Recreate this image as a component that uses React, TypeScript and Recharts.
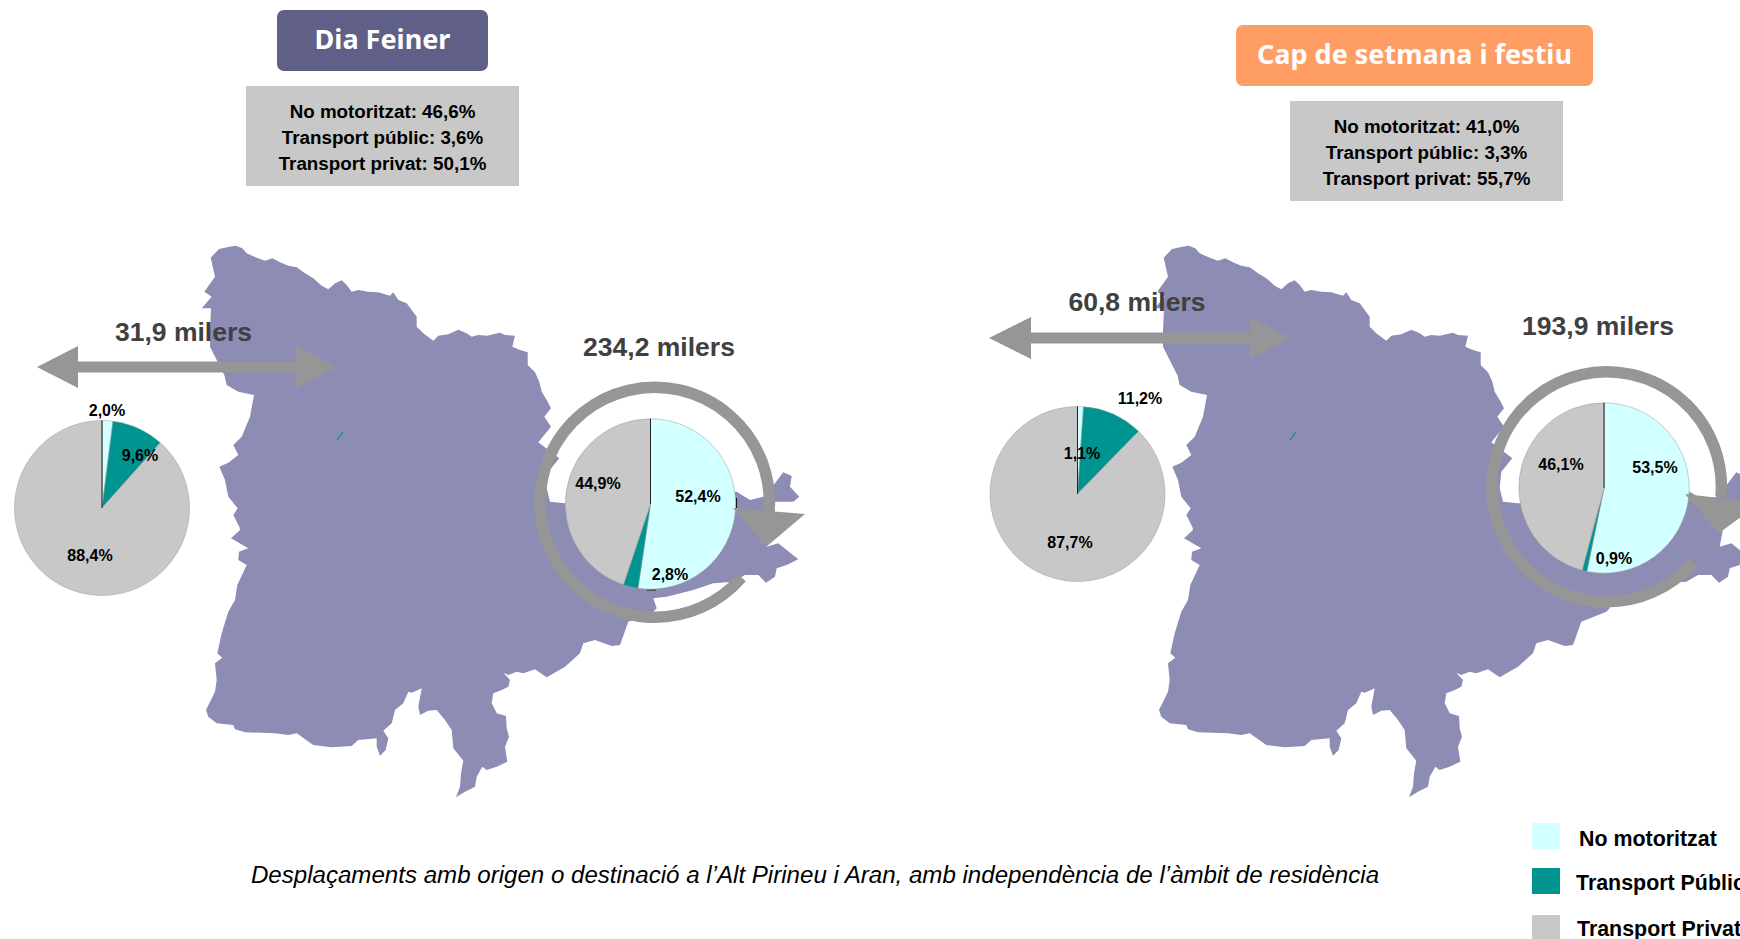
import { PieChart, Pie, Cell } from 'recharts';

const WIDTH = 1740;
const HEIGHT = 939;

const CATEGORIES = ['No motoritzat', 'Transport Públic', 'Transport Privat'];
const CATEGORY_COLORS = ['#D2FFFF', '#009491', '#C8C8C8'];

const feinerExternal = [2.0, 9.6, 88.4];
const feinerInternal = [52.4, 2.8, 44.9];
const festiuExternal = [1.1, 11.2, 87.7];
const festiuInternal = [53.5, 0.9, 46.1];

const feinerSummary = ['No motoritzat: 46,6%', 'Transport públic: 3,6%', 'Transport privat: 50,1%'];
const festiuSummary = ['No motoritzat: 41,0%', 'Transport públic: 3,3%', 'Transport privat: 55,7%'];

const CAPTION = 'Desplaçaments amb origen o destinació a l’Alt Pirineu i Aran, amb independència de l’àmbit de residència';

const MAP_NORTH = [
  [47, 68], [72, 42], [100, 36], [122, 32], [142, 40], [155, 55], [185, 68], [210, 77], [232, 70], [255, 82], [280, 92],
  [305, 97], [330, 115], [355, 130], [380, 152], [400, 163], [420, 145], [440, 136], [455, 150], [470, 170], [490, 165],
  [520, 170], [550, 172], [585, 182], [595, 172], [610, 195], [635, 205], [650, 225], [665, 245], [665, 275], [685, 295],
  [715, 317], [730, 302], [760, 298], [790, 284], [815, 295], [830, 305], [850, 300], [875, 302], [915, 293], [930, 300],
  [960, 302], [952, 335], [975, 345], [998, 352], [998, 390], [1020, 412], [1033, 440], [1040, 470], [1055, 495],
  [1068, 520], [1048, 545], [1068, 575], [1030, 622],
];
const MAP_EAST = [
  [178, 55], [145, 95], [140, 145], [150, 185], [195, 190], [450, 190], [710, 155], [750, 180], [790, 170], [825, 130],
  [850, 97], [875, 108], [870, 140], [898, 170], [880, 185], [825, 185], [800, 320], [835, 310], [860, 330], [895, 358],
  [860, 375], [830, 385], [825, 410], [798, 428], [775, 405], [735, 405], [700, 425], [640, 430], [580, 450], [500, 470],
  [460, 475], [470, 505], [460, 515], [385, 545], [360, 615], [335, 618], [285, 600], [250, 610], [240, 640], [195, 680],
  [140, 712],
];
const MAP_SOUTH = [
  [1020, 448], [985, 460], [965, 455], [940, 465], [925, 458], [945, 480], [940, 500], [920, 510], [895, 520], [890, 550],
  [905, 580], [933, 588], [935, 625], [942, 650], [930, 680], [937, 725], [905, 740], [875, 750], [862, 740], [845, 770],
  [840, 800], [810, 815], [783, 832], [795, 800], [798, 760], [805, 722], [775, 685], [770, 630], [750, 600], [725, 570],
  [700, 572], [675, 585], [670, 560], [680, 505], [650, 518], [640, 515], [625, 550], [600, 570], [590, 610], [565, 632],
  [580, 655], [572, 690], [555, 707], [545, 680], [545, 655], [490, 660], [470, 678], [410, 682], [355, 675], [305, 640],
  [280, 645], [240, 640], [150, 637], [120, 628], [115, 615], [65, 610], [40, 590], [33, 570], [60, 515], [65, 480],
  [60, 430], [82, 413], [67, 400], [80, 340], [100, 275], [120, 240], [127, 195], [155, 135], [130, 120], [132, 95],
  [160, 85], [108, 55], [135, 30], [130, 0],
];
const MAP_WEST = [
  [135, 880], [115, 840], [128, 820], [100, 785], [90, 735], [73, 695], [100, 683], [130, 660], [115, 630], [140, 605],
  [165, 545], [177, 480], [130, 470], [95, 450], [88, 420], [65, 375], [45, 335], [45, 290], [48, 220], [20, 220],
  [50, 185], [28, 170], [60, 125],
];

const fromCrop = (pts: number[][], ox: number, oy: number) => pts.map(([x, y]) => `${(ox + x / 3).toFixed(1)},${(oy + y / 3).toFixed(1)}`);
const MAP_POINTS = [
  ...fromCrop(MAP_NORTH, 195, 235),
  ...fromCrop(MAP_EAST, 500, 440),
  ...fromCrop(MAP_SOUTH, 195, 520),
  ...fromCrop(MAP_WEST, 195, 235),
].join(' ');

const sans = '"Liberation Sans", Arial, sans-serif';
const GREY_ARROW = '#969696';

const toRows = (values: number[]) => values.map((value, i) => ({ name: CATEGORIES[i], value }));
const fmt = (v: number) => `${v.toFixed(1).replace('.', ',')}%`;

// label spots sit where the original author dragged them by hand
function makeLabel(spots: number[][]) {
  return function PieLabel(props: any) {
    const { index, value, cx, cy, outerRadius } = props;
    const [x, y] = spots[index];
    return (
      <g>
        {index === 0 && <line x1={cx} y1={cy} x2={cx} y2={cy - outerRadius} stroke="#222" strokeWidth={1} />}
        <text x={x} y={y} textAnchor="middle" dominantBaseline="central" fontFamily={sans} fontWeight={700} fontSize={16} fill="#000">
          {fmt(value)}
        </text>
      </g>
    );
  };
}

function renderPie(values: number[], cx: number, cy: number, r: number, spots: number[][]) {
  return (
    <Pie
      data={toRows(values)}
      dataKey="value"
      nameKey="name"
      cx={cx}
      cy={cy}
      outerRadius={r}
      startAngle={90}
      endAngle={-270}
      stroke="#9a9a9a"
      strokeWidth={0.5}
      label={makeLabel(spots)}
      labelLine={false}
      isAnimationActive={false}
    >
      {values.map((_v, i) => (
        <Cell key={i} fill={CATEGORY_COLORS[i]} />
      ))}
    </Pie>
  );
}

function HArrow({ x0, x1, x2, x3, y, head, shaft }: { x0: number; x1: number; x2: number; x3: number; y: number; head: number; shaft: number }) {
  const d = `M${x0},${y} L${x1},${y - head} L${x1},${y - shaft} L${x2},${y - shaft} L${x2},${y - head} L${x3},${y} L${x2},${y + head} L${x2},${y + shaft} L${x1},${y + shaft} L${x1},${y + head} Z`;
  return <path d={d} fill={GREY_ARROW} />;
}

function Summary({ x, y, lines }: { x: number; y: number; lines: string[] }) {
  return (
    <g>
      <rect x={x} y={y} width={273} height={100} fill="#C8C8C8" />
      {lines.map((line, i) => (
        <text key={line} x={x + 136.5} y={y + 25 + i * 26.3} textAnchor="middle" dominantBaseline="central" fontFamily={sans} fontWeight={700} fontSize={18.8} fill="#000">
          {line}
        </text>
      ))}
    </g>
  );
}

function Milers({ x, y, children }: { x: number; y: number; children: string }) {
  return (
    <text x={x} y={y} textAnchor="middle" dominantBaseline="central" fontFamily={sans} fontWeight={700} fontSize={26.5} fill="#404040">
      {children}
    </text>
  );
}

export default function App() {
  return (
    <div style={{ position: 'absolute', left: 0, top: 0, width: WIDTH, height: HEIGHT, overflow: 'hidden', background: '#fff' }}>
      <svg width={WIDTH} height={HEIGHT} style={{ position: 'absolute', left: 0, top: 0 }}>
        <polygon points={MAP_POINTS} fill="#8C8CB4" />
        <polygon points={MAP_POINTS} fill="#8C8CB4" transform="translate(953,0)" />
        <line x1={337} y1={440} x2={343} y2={432} stroke="#009491" strokeWidth={1.2} />
        <line x1={1290} y1={440} x2={1296} y2={432} stroke="#009491" strokeWidth={1.2} />
        <line x1={736.5} y1={498} x2={736.5} y2={508} stroke="#111" strokeWidth={1} />
        <line x1={647} y1={590} x2={656} y2={590} stroke="#555" strokeWidth={2} />
      </svg>

      <div style={{ position: 'absolute', left: 0, top: 0 }}>
        <PieChart width={WIDTH} height={HEIGHT} margin={{ top: 0, right: 0, bottom: 0, left: 0 }}>
          {renderPie(feinerExternal, 102, 508, 87.5, [[107, 410], [140, 455], [90, 555]])}
          {renderPie(feinerInternal, 650.5, 504, 85.2, [[698, 496], [670, 574.5], [598, 483]])}
          {renderPie(festiuExternal, 1077.5, 494, 87.5, [[1082, 453], [1140, 398], [1070, 542]])}
          {renderPie(festiuInternal, 1604, 488, 85.2, [[1655, 467], [1614, 558], [1561, 464]])}
        </PieChart>
      </div>

      <svg width={WIDTH} height={HEIGHT} style={{ position: 'absolute', left: 0, top: 0 }}>
        <HArrow x0={37} x1={78} x2={296} x3={336} y={367} head={21} shaft={5.5} />
        <HArrow x0={989} x1={1031} x2={1250} x3={1290} y={338} head={21} shaft={5.5} />

        <path d="M769,512 A114.7,115 0 1 0 741.5,577.5" fill="none" stroke={GREY_ARROW} strokeWidth={11.5} />
        <polygon points="733,508 805,514 766,547" fill={GREY_ARROW} />
        <path d="M1721,496.5 A114.7,115 0 1 0 1693.5,562" fill="none" stroke={GREY_ARROW} strokeWidth={11.5} />
        <polygon points="1685,494 1760,503 1719,533" fill={GREY_ARROW} />

        <Milers x={183.5} y={332}>31,9 milers</Milers>
        <Milers x={659} y={347}>234,2 milers</Milers>
        <Milers x={1137} y={302}>60,8 milers</Milers>
        <Milers x={1598} y={326}>193,9 milers</Milers>

        <rect x={277} y={10} width={211} height={61} rx={7} fill="#5F5F87" />
        <text x={382.5} y={38.5} textAnchor="middle" dominantBaseline="central" fontFamily='"Noto Sans", sans-serif' fontWeight={700} fontSize={27} fill="#fff">
          Dia Feiner
        </text>
        <rect x={1236} y={25} width={357} height={61} rx={7} fill="#FF9E64" />
        <text x={1414.5} y={53.5} textAnchor="middle" dominantBaseline="central" fontFamily='"Noto Sans", sans-serif' fontWeight={700} fontSize={27} fill="#fff">
          Cap de setmana i festiu
        </text>

        <Summary x={246} y={86} lines={feinerSummary} />
        <Summary x={1290} y={101} lines={festiuSummary} />

        <text x={815} y={874.5} textAnchor="middle" dominantBaseline="central" fontFamily={sans} fontStyle="italic" fontSize={24.1} fill="#000">
          {CAPTION}
        </text>

        <rect x={1532} y={823} width={28} height={26} fill={CATEGORY_COLORS[0]} />
        <rect x={1532} y={868} width={28} height={26} fill={CATEGORY_COLORS[1]} />
        <rect x={1532} y={915} width={28} height={26} fill={CATEGORY_COLORS[2]} />
        <text x={1579} y={839} dominantBaseline="central" fontFamily={sans} fontWeight={700} fontSize={21.4} fill="#000">{CATEGORIES[0]}</text>
        <text x={1576} y={883} dominantBaseline="central" fontFamily={sans} fontWeight={700} fontSize={21.4} fill="#000">{CATEGORIES[1]}</text>
        <text x={1577} y={929} dominantBaseline="central" fontFamily={sans} fontWeight={700} fontSize={21.4} fill="#000">{CATEGORIES[2]}</text>
      </svg>
    </div>
  );
}
